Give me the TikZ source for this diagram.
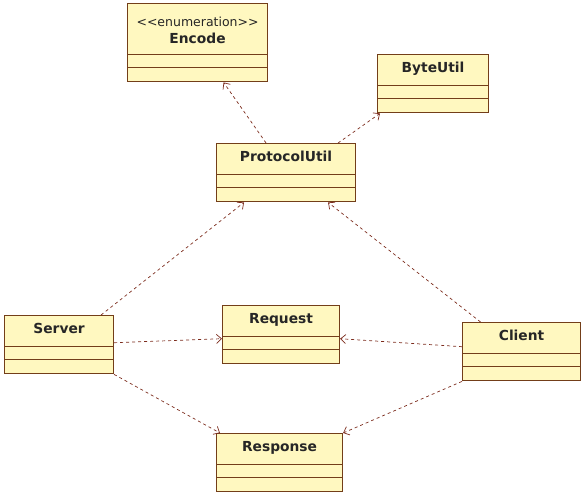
\documentclass[tikz,border=0pt]{standalone}
\usepackage{fontspec}
\setmainfont{DejaVu Sans}
\usetikzlibrary{shapes,arrows.meta}
\definecolor{classfill}{RGB}{255,248,192}
\definecolor{classline}{RGB}{115,62,25}
\definecolor{depline}{RGB}{125,45,30}
\newcommand{\chead}{\rule[-10pt]{0pt}{24pt}}
\newcommand{\cpartA}{\rule{0pt}{6pt}}
\newcommand{\cpartB}{\rule{0pt}{7pt}}

\begin{document}
\begin{tikzpicture}[x=1pt,y=-1pt]
        \tikzstyle{umlclass}=[rectangle split, rectangle split parts=3, draw=classline, fill=classfill, line width=1.1pt, inner xsep=0pt, inner ysep=3pt, font=\fontsize{13.8}{16}\selectfont\bfseries, text=black!85, align=center, anchor=north west]
        \tikzstyle{dep}=[draw=depline, dash pattern=on 3pt off 3pt, line width=0.7pt, -{Straight Barb[length=5pt,width=9pt]}]
        \useasboundingbox (0,0) rectangle (585,496);
        \node[umlclass, text width=140pt] (encode) at (127,3) {\rule{0pt}{19pt}{\fontsize{12.5}{15}\selectfont\mdseries <\kern0pt<enumeration>\kern0pt>}\\[1pt] Encode\rule[-8pt]{0pt}{8pt} \nodepart{two} \cpartA \nodepart{three} \cpartB};
        \node[umlclass, text width=111pt] (byteutil) at (377,54) {\chead ByteUtil \nodepart{two} \cpartA \nodepart{three} \cpartB};
        \node[umlclass, text width=139pt] (protocol) at (216,143) {\chead ProtocolUtil \nodepart{two} \cpartA \nodepart{three} \cpartB};
        \node[umlclass, text width=109pt] (server) at (4,315) {\chead Server \nodepart{two} \cpartA \nodepart{three} \cpartB};
        \node[umlclass, text width=117pt] (request) at (222,305) {\chead Request \nodepart{two} \cpartA \nodepart{three} \cpartB};
        \node[umlclass, text width=118pt] (client) at (462,322) {\chead Client \nodepart{two} \cpartA \nodepart{three} \cpartB};
        \node[umlclass, text width=126pt] (response) at (216,433) {\chead Response \nodepart{two} \cpartA \nodepart{three} \cpartB};
        \draw[dep] ([xshift=-20pt]protocol.north) -- ([xshift=26pt]encode.south);
        \draw[dep] ([xshift=52pt]protocol.north) -- ([xshift=3pt]byteutil.south west);
        \draw[dep] ([xshift=42pt]server.north) -- ([xshift=-42pt]protocol.south);
        \draw[dep] ([xshift=-41pt]client.north) -- ([xshift=42pt]protocol.south);
        \draw[dep] ([yshift=2pt]server.east) -- ([yshift=-4pt]request.west);
        \draw[dep] ([yshift=5pt]client.west) -- ([yshift=-4pt]request.east);
        \draw[dep] (server.south east) -- ([xshift=4pt]response.north west);
        \draw[dep] (client.south west) -- (response.north east);
\end{tikzpicture}
\end{document}
